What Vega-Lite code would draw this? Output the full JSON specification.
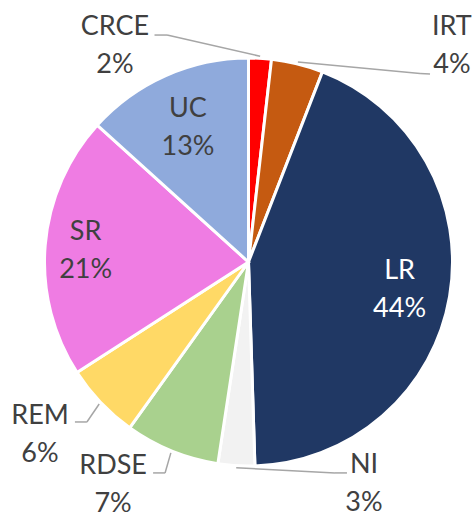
{
  "$schema": "https://vega.github.io/schema/vega-lite/v6.json",
  "width": 451,
  "height": 500,
  "autosize": {"type": "none"},
  "padding": {"left": 23, "top": 12, "right": 0, "bottom": 0},
  "background": "white",
  "config": {"view": {"stroke": null}},
  "data": {
    "values": [
      {"cat": "CRCE", "value": 1.8, "pct": "2%"},
      {"cat": "IRT", "value": 4.1, "pct": "4%"},
      {"cat": "LR", "value": 43.6, "pct": "44%"},
      {"cat": "NI", "value": 2.9, "pct": "3%"},
      {"cat": "RDSE", "value": 7.5, "pct": "7%"},
      {"cat": "REM", "value": 6.0, "pct": "6%"},
      {"cat": "SR", "value": 20.8, "pct": "21%"},
      {"cat": "UC", "value": 13.3, "pct": "13%"}
    ]
  },
  "transform": [
    {"window": [{"op": "sum", "field": "value", "as": "cum"}], "sort": [{"field": "cat", "order": "ascending"}], "frame": [null, 0]},
    {"joinaggregate": [{"op": "sum", "field": "value", "as": "total"}]},
    {"calculate": "2*PI*(datum.cum - datum.value/2)/datum.total", "as": "mid"},
    {"calculate": "{'CRCE':[-0.401,1.118,-0.463,1.118,-0.658,1.074],'IRT':[0.845,0.929,0.894,0.926,1.002,1.074],'NI':[0.426,-1.039,0.485,-1.039,0.569,-1.084],'RDSE':[-0.411,-1.039,-0.470,-1.039,-0.667,-1.089],'REM':[-0.796,-0.788,-0.855,-0.788,-1.027,-0.842]}[datum.cat]", "as": "L"},
    {"calculate": "{'UC':0.735,'SR':0.805,'LR':0.755}[datum.cat]", "as": "rin"},
    {"calculate": "sin(datum.mid)*1.015", "as": "rx"},
    {"calculate": "cos(datum.mid)*1.015", "as": "ry"},
    {"calculate": "datum.L ? datum.L[0] : null", "as": "ex"},
    {"calculate": "datum.L ? datum.L[1] : null", "as": "ey"},
    {"calculate": "datum.L ? datum.L[2] : null", "as": "hx"},
    {"calculate": "datum.L ? datum.L[3] : null", "as": "hy"},
    {"calculate": "datum.L ? datum.L[4] : sin(datum.mid)*datum.rin", "as": "lx"},
    {"calculate": "datum.L ? datum.L[5] : cos(datum.mid)*datum.rin", "as": "ly"}
  ],
  "layer": [
    {
      "mark": {"type": "arc", "outerRadius": 204, "stroke": "white", "strokeWidth": 3},
      "encoding": {
        "theta": {"field": "value", "type": "quantitative", "stack": true},
        "order": {"field": "cat", "type": "ordinal", "sort": "ascending"},
        "color": {
          "field": "cat",
          "type": "nominal",
          "scale": {
            "domain": ["CRCE", "IRT", "LR", "NI", "RDSE", "REM", "SR", "UC"],
            "range": ["#FF0000", "#C55A11", "#203864", "#F2F2F2", "#A9D18E", "#FFD966", "#EF7CE3", "#8FAADC"]
          },
          "legend": null
        }
      }
    },
    {
      "transform": [{"filter": "isValid(datum.ex)"}],
      "mark": {"type": "rule", "color": "#A6A6A6", "strokeWidth": 1.5},
      "encoding": {
        "x": {"field": "rx", "type": "quantitative", "scale": {"domain": [-1.1108, 1.1108], "nice": false, "zero": false}, "axis": null},
        "y": {"field": "ry", "type": "quantitative", "scale": {"domain": [-1.2315, 1.2315], "nice": false, "zero": false}, "axis": null},
        "x2": {"field": "ex"},
        "y2": {"field": "ey"}
      }
    },
    {
      "transform": [{"filter": "isValid(datum.ex)"}],
      "mark": {"type": "rule", "color": "#A6A6A6", "strokeWidth": 1.5},
      "encoding": {
        "x": {"field": "ex", "type": "quantitative", "axis": null},
        "y": {"field": "ey", "type": "quantitative", "axis": null},
        "x2": {"field": "hx"},
        "y2": {"field": "hy"}
      }
    },
    {
      "mark": {"type": "text", "font": "Lato", "fontSize": 27, "align": "center", "baseline": "middle", "dy": -17},
      "encoding": {
        "x": {"field": "lx", "type": "quantitative", "axis": null},
        "y": {"field": "ly", "type": "quantitative", "axis": null},
        "text": {"field": "cat"},
        "color": {"condition": {"test": "datum.cat == 'LR'", "value": "white"}, "value": "#404040"}
      }
    },
    {
      "mark": {"type": "text", "font": "Lato", "fontSize": 27, "align": "center", "baseline": "middle", "dy": 21},
      "encoding": {
        "x": {"field": "lx", "type": "quantitative", "axis": null},
        "y": {"field": "ly", "type": "quantitative", "axis": null},
        "text": {"field": "pct"},
        "color": {"condition": {"test": "datum.cat == 'LR'", "value": "white"}, "value": "#404040"}
      }
    }
  ]
}
